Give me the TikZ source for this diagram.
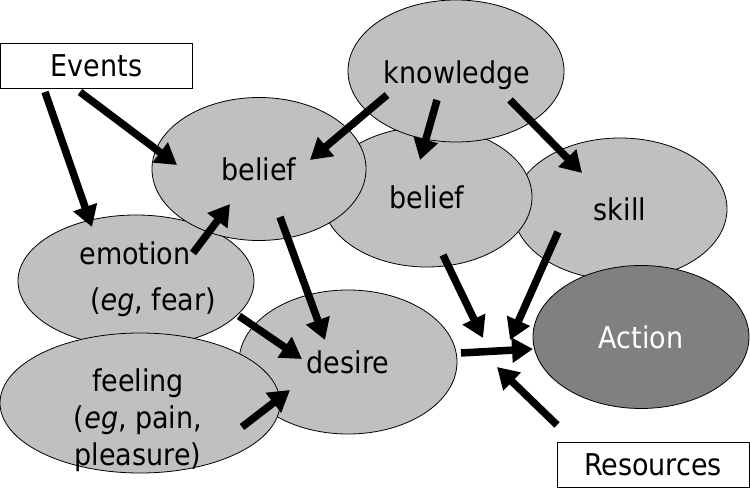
\documentclass[tikz,border=0pt]{standalone}
\usepackage{fontspec}
\setmainfont{DejaVu Sans Condensed}
\usetikzlibrary{shapes.geometric,arrows.meta}
\definecolor{blobgray}{RGB}{192,192,192}
\definecolor{actiongray}{RGB}{128,128,128}

\begin{document}
\begin{tikzpicture}[x=1bp,y=-1bp,font=\fontsize{30bp}{37bp}\selectfont]
\tikzset{blob/.style={ellipse,draw,line width=0.8bp,fill=blobgray,inner sep=0pt,minimum width=214bp,minimum height=142bp}}
\tikzset{tag/.style={rectangle,draw,line width=0.8bp,fill=white,inner sep=0pt,minimum width=192bp,minimum height=45bp}}
\tikzset{arr/.style={line width=7.5bp,-{Triangle[length=21bp,width=24bp]}}}

\useasboundingbox (0,0) rectangle (750,501);

% back to front
\path (620,209) node[blob] (skill) {skill};
\path (427,197) node[blob,minimum width=210bp,minimum height=140bp] (beliefM) {belief};
\path (456,71) node[blob,minimum width=216bp] (know) {};
\path (348,362) node[blob,minimum width=218bp,minimum height=144bp] (desire) {desire};
\path (136,281) node[blob,minimum width=236bp,minimum height=132bp] (emotion) {};
\path (140,403) node[blob,minimum width=280bp,minimum height=140bp] (feeling) {};
\path (259,169) node[blob,minimum height=143bp] (beliefA) {belief};
\path (641,337) node[blob,fill=actiongray,text=white,minimum width=216bp,minimum height=143bp] (action) {Action};

\path (457,75) node (knowName) {knowledge};
\path (135,253) node (emoName) {emotion};
\path (153,302) node (emoEg) {(\textit{eg}, fear)};
\path (138,420) node[align=center] (feelName) {feeling\\(\textit{eg}, pain,\\pleasure)};

\path (96.5,65.5) node[tag] (events) {Events};
\path (653,464.5) node[tag] (res) {Resources};

\coordinate (t1) at (45,92);   \coordinate (h1) at (92,227);
\coordinate (t2) at (80,92);   \coordinate (h2) at (177,165);
\coordinate (t3) at (387,95);  \coordinate (h3) at (310,160);
\coordinate (t4) at (437,100); \coordinate (h4) at (420,160);
\coordinate (t5) at (510,100); \coordinate (h5) at (582,173);
\coordinate (t6) at (193,253); \coordinate (h6) at (230,204);
\coordinate (t7) at (280,217); \coordinate (h7) at (325,340);
\coordinate (t8) at (239,316); \coordinate (h8) at (302,359);
\coordinate (t9) at (242,427); \coordinate (h9) at (290,390);
\coordinate (t10) at (443,255); \coordinate (h10) at (483,338);
\coordinate (t11) at (558,232); \coordinate (h11) at (510,340);
\coordinate (t12) at (461,353); \coordinate (h12) at (533,349);
\coordinate (t13) at (557,425); \coordinate (h13) at (497,367);

\foreach \i in {1,...,13}
  \draw[arr] (t\i) -- (h\i);

\end{tikzpicture}
\end{document}
